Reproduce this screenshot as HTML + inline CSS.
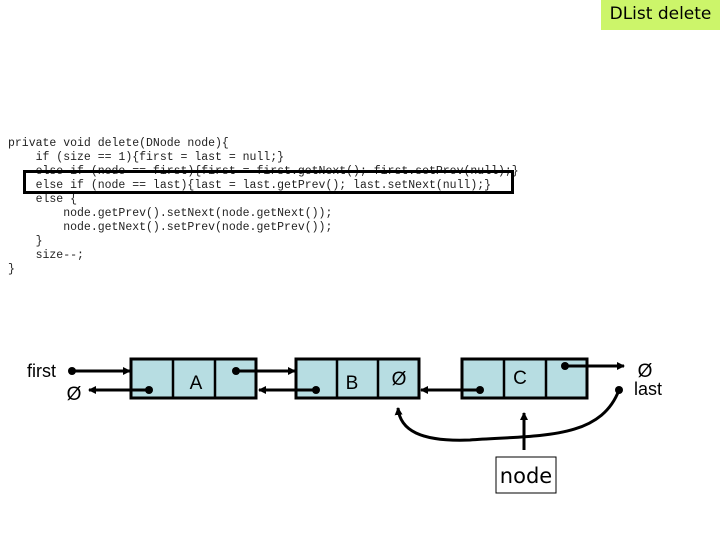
<!DOCTYPE html>
<html><head><style>
body{margin:0;width:720px;height:540px;background:#fff;position:relative;overflow:hidden}
.title{position:absolute;left:601px;top:0;width:119px;height:30px;background:#ccf56a;font:17px "DejaVu Sans","Liberation Sans",sans-serif;color:#000;text-align:center;line-height:28px}
pre{position:absolute;left:8px;top:137px;margin:0;font:11.5px/14px "Liberation Mono",monospace;color:#222}
.hl{position:absolute;left:23px;top:170px;width:485px;height:18px;border:3px solid #000}
</style></head><body>
<div class="title">DList delete</div>
<pre>private void delete(DNode node){
    if (size == 1){first = last = null;}
    else if (node == first){first = first.getNext(); first.setPrev(null);}
    else if (node == last){last = last.getPrev(); last.setNext(null);}
    else {
        node.getPrev().setNext(node.getNext());
        node.getNext().setPrev(node.getPrev());
    }
    size--;
}</pre>
<div class="hl"></div>
<svg width="720" height="540" style="position:absolute;left:0;top:0" font-family="Liberation Sans, sans-serif">
<defs><marker id="a" markerWidth="8" markerHeight="8" refX="7" refY="4" orient="auto" markerUnits="userSpaceOnUse"><path d="M0,0L8,4L0,8z" fill="#000"/></marker></defs>
<g fill="#b7dde2" stroke="#000" stroke-width="3">
<rect x="131" y="359" width="125" height="39"/><rect x="296" y="359" width="123" height="39"/><rect x="462" y="359" width="125" height="39"/>
</g>
<g stroke="#000" stroke-width="2.5">
<line x1="173" y1="359" x2="173" y2="398"/><line x1="215" y1="359" x2="215" y2="398"/>
<line x1="337" y1="359" x2="337" y2="398"/><line x1="378" y1="359" x2="378" y2="398"/>
<line x1="504" y1="359" x2="504" y2="398"/><line x1="546" y1="359" x2="546" y2="398"/>
</g>
<g font-size="19" text-anchor="middle"><text x="196" y="389">A</text><text x="352" y="389">B</text><text x="520" y="384">C</text>
<text x="399" y="385">Ø</text><text x="74" y="400">Ø</text><text x="645" y="377">Ø</text></g>
<text x="27" y="377" font-size="18">first</text>
<text x="634" y="395" font-size="18">last</text>
<g stroke="#000" stroke-width="3" fill="none" marker-end="url(#a)">
<line x1="72" y1="371" x2="130" y2="371"/>
<line x1="149" y1="390" x2="89" y2="390"/>
<line x1="236" y1="371" x2="295" y2="371"/>
<line x1="316" y1="390" x2="259" y2="390"/>
<line x1="480" y1="390" x2="421" y2="390"/>
<line x1="565" y1="366" x2="624" y2="366"/>
<line x1="524" y1="450" x2="524" y2="413"/>
<path d="M619,390 C600,440 540,435 470,440 C420,442 400,430 398,408"/>
</g>
<g fill="#000"><circle cx="72" cy="371" r="4"/><circle cx="149" cy="390" r="4"/><circle cx="236" cy="371" r="4"/><circle cx="316" cy="390" r="4"/><circle cx="480" cy="390" r="4"/><circle cx="565" cy="366" r="4"/><circle cx="619" cy="390" r="4"/></g>
<rect x="496" y="457" width="60" height="36" fill="#fff" stroke="#000" stroke-width="1"/>
<text x="526" y="483" font-size="21" text-anchor="middle" font-family="DejaVu Sans, sans-serif">node</text>
</svg>
</body></html>
